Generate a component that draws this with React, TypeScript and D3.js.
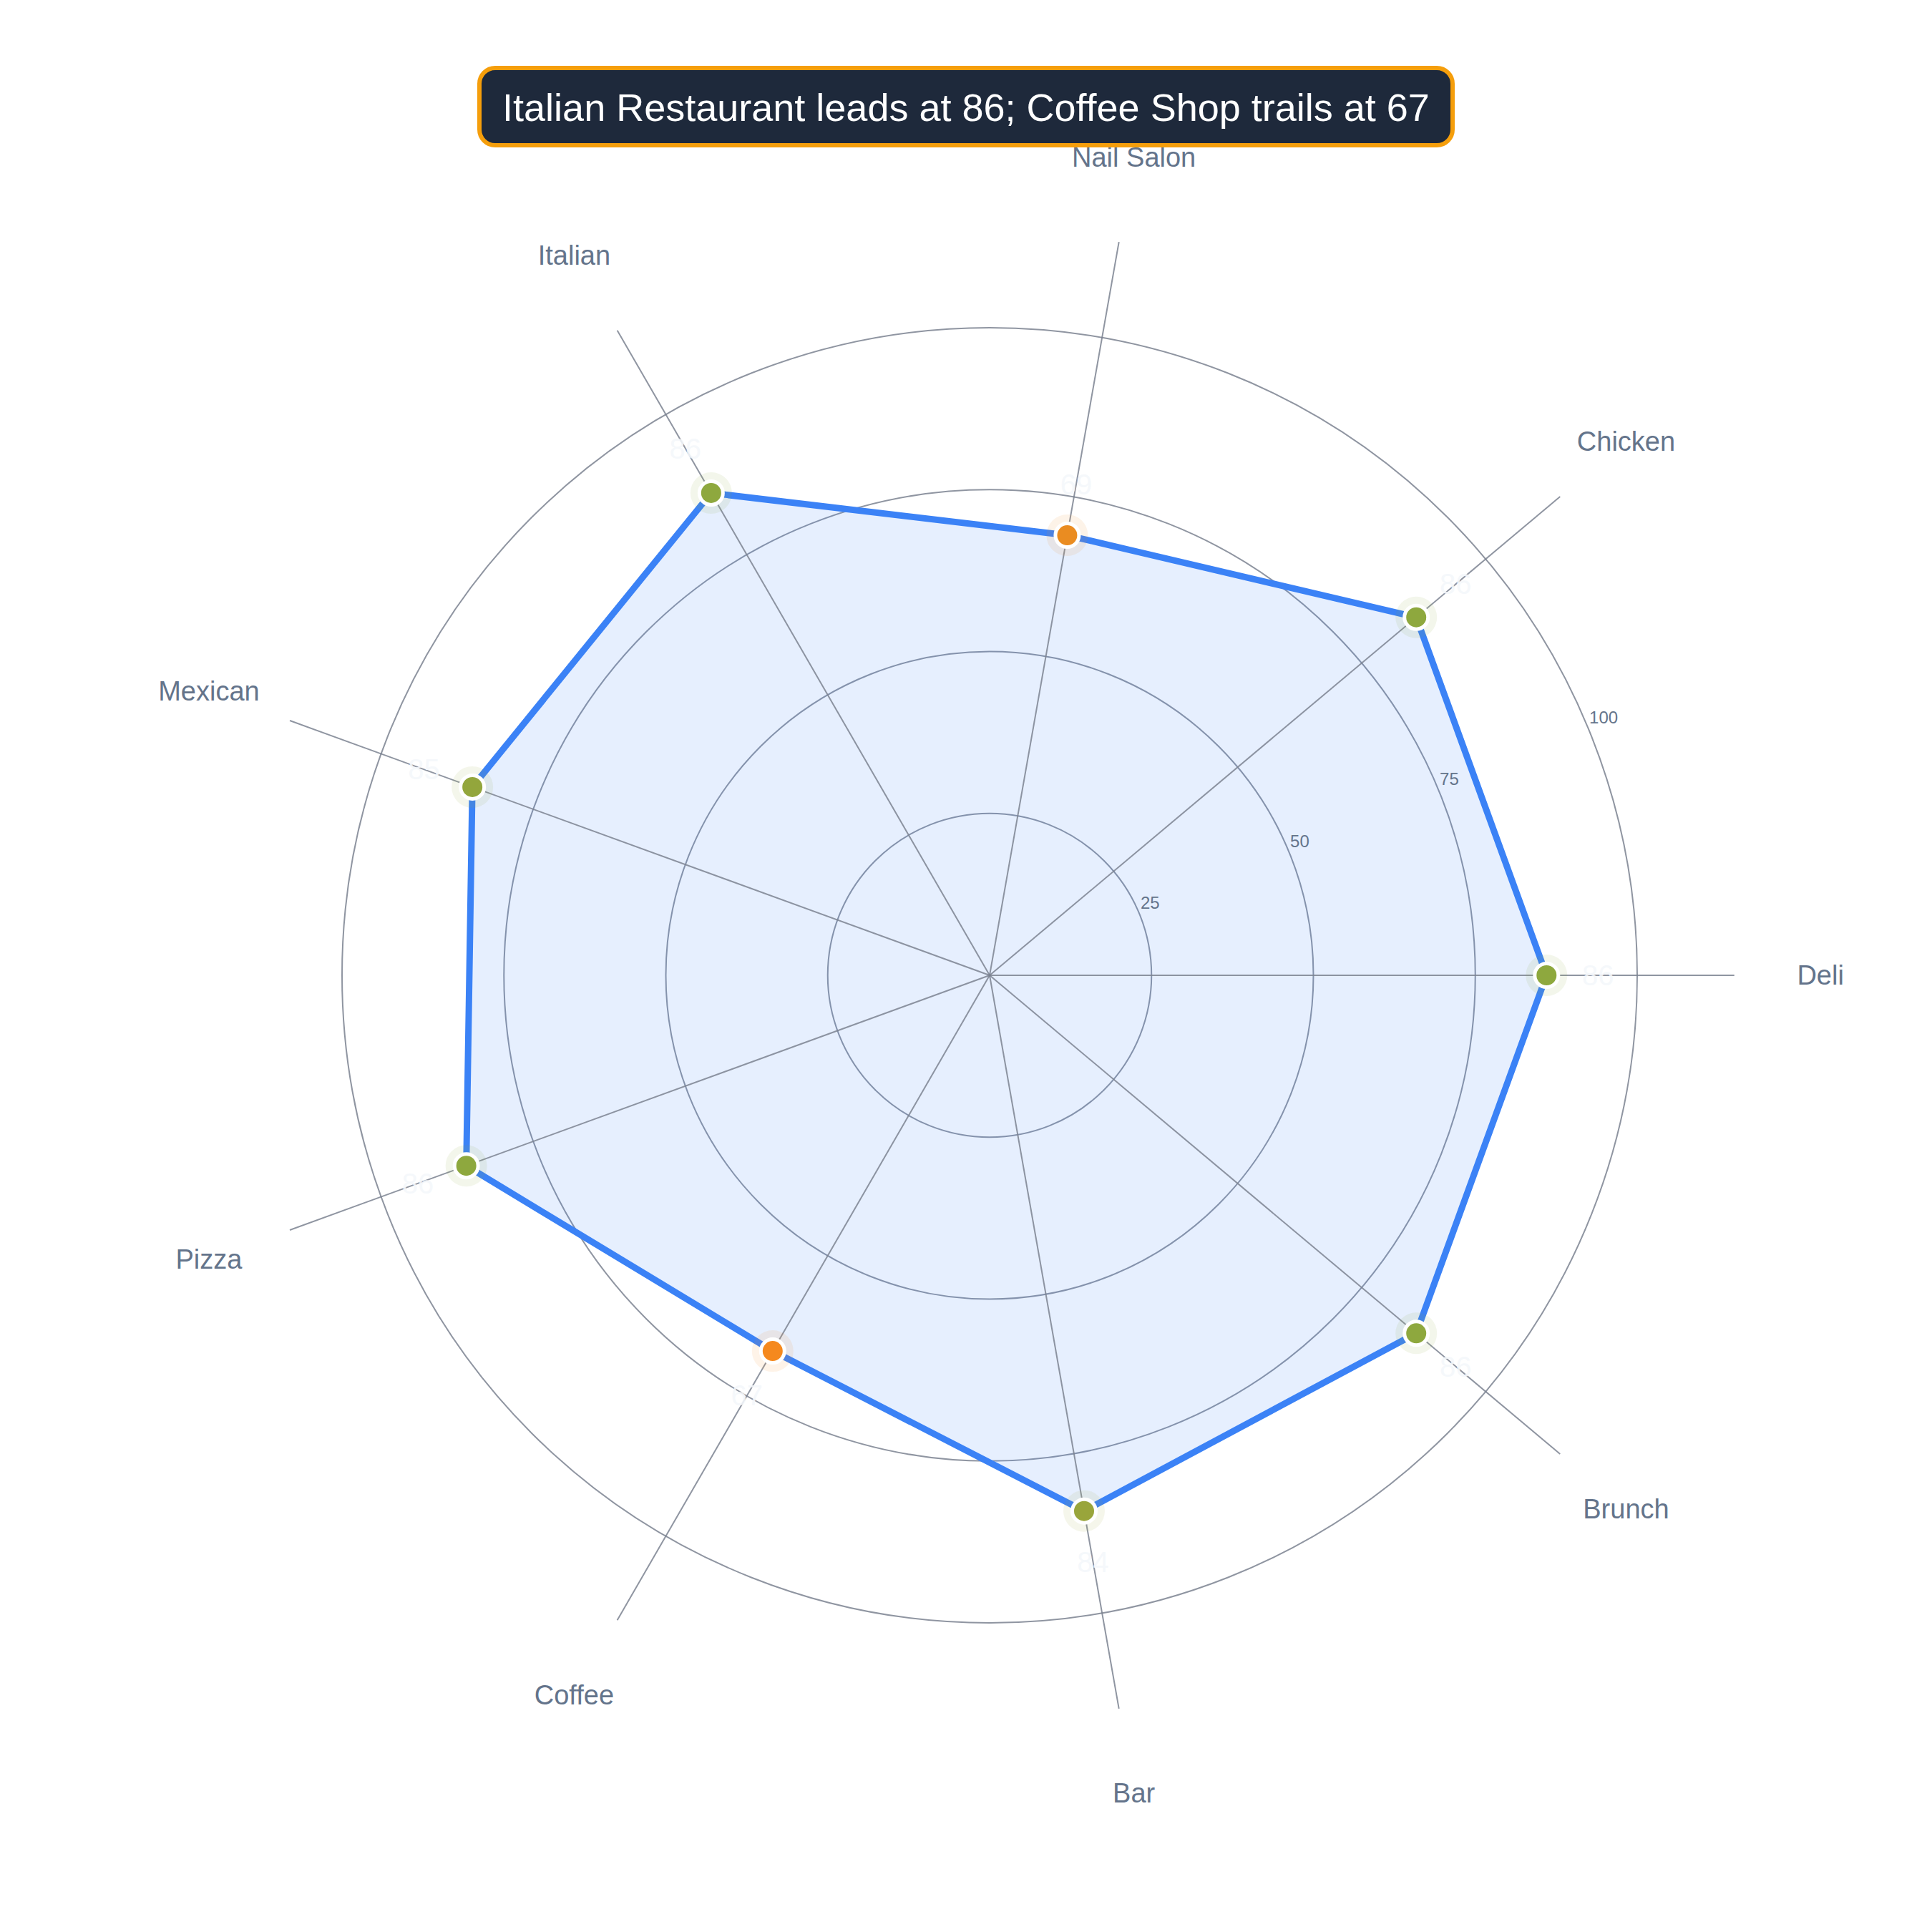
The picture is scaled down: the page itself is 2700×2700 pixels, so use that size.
import React from "react";
import * as d3 from "d3";

const categories = ["Deli", "Chicken", "Nail Salon", "Italian", "Mexican", "Pizza", "Coffee", "Bar", "Brunch"];
const values = [86, 86, 69, 86, 85, 86, 67, 84, 86];
const ringTicks = [25, 50, 75, 100];
const titleText = "Italian Restaurant leads at 86; Coffee Shop trails at 67";

const W = 2700;
const H = 2700;
const CX = 1375;
const CY = 1355;
const R = 905;

export default function App() {
  const r = d3.scaleLinear().domain([0, 100]).range([0, R]);
  const ang = d3.scaleLinear().domain([0, categories.length]).range([0, 2 * Math.PI]);
  const px = (i: number, rad: number) => CX + rad * Math.cos(ang(i));
  const py = (i: number, rad: number) => CY - rad * Math.sin(ang(i));
  const color = d3
    .scaleLinear<string>()
    .domain([d3.min(values) as number, d3.max(values) as number])
    .range(["#f5891e", "#8ea83e"])
    .interpolate(d3.interpolateRgb);

  const line = d3
    .line<number>()
    .x((v, i) => px(i, r(v)))
    .y((v, i) => py(i, r(v)))
    .curve(d3.curveLinearClosed);

  const tickAngle = Math.PI / 8;

  return (
    <svg width={W} height={H} style={{ display: "block" }} fontFamily="'Liberation Sans', Arial, Helvetica, sans-serif">
      <rect x={0} y={0} width={W} height={H} fill="#ffffff" />
      {ringTicks.map((t) => (
        <circle key={"ring" + t} cx={CX} cy={CY} r={r(t)} fill="none" stroke="#7b8390" strokeOpacity={0.85} strokeWidth={2} />
      ))}
      <path d={line(values) as string} fill="#3b82f6" fillOpacity={0.13} stroke="none" />
      {categories.map((c, i) => (
        <line key={"ax" + c} x1={CX} y1={CY} x2={px(i, r(115))} y2={py(i, r(115))} stroke="#7b8390" strokeOpacity={0.85} strokeWidth={2} />
      ))}
      {ringTicks.map((t) => (
        <text
          key={"tl" + t}
          x={CX + r(t) * Math.cos(tickAngle) + 2}
          y={CY - r(t) * Math.sin(tickAngle) - 6}
          fontSize={24}
          fill="#64748b"
          textAnchor="start"
        >
          {t}
        </text>
      ))}
      <path d={line(values) as string} fill="none" stroke="#3b82f6" strokeWidth={9} strokeLinejoin="round" />
      {values.map((v, i) => (
        <g key={"m" + i}>
          <circle cx={px(i, r(v))} cy={py(i, r(v))} r={29} fill={color(v)} fillOpacity={0.1} />
          <circle cx={px(i, r(v))} cy={py(i, r(v))} r={16.5} fill={color(v)} stroke="#ffffff" strokeWidth={5} />
        </g>
      ))}
      {values.map((v, i) => (
        <text
          key={"vl" + i}
          x={px(i, r(v) + 72)}
          y={py(i, r(v) + 72)}
          fontSize={40}
          fill="#f4f7fb"
          fillOpacity={0.9}
          textAnchor="middle"
          dominantBaseline="central"
        >
          {v}
        </text>
      ))}
      {categories.map((c, i) => (
        <text
          key={"cl" + c}
          x={px(i, r(128.3))}
          y={py(i, r(128.3))}
          fontSize={38}
          fill="#64748b"
          textAnchor="middle"
          dominantBaseline="central"
        >
          {c}
        </text>
      ))}
      <g>
        <rect x={662} y={87} width={1360} height={108} rx={22} ry={22} fill="#1e293b" stroke="#f59e0b" strokeWidth={6} />
        <text x={1342} y={142} fontSize={54} fill="#ffffff" textAnchor="middle" dominantBaseline="central">
          {titleText}
        </text>
      </g>
    </svg>
  );
}
